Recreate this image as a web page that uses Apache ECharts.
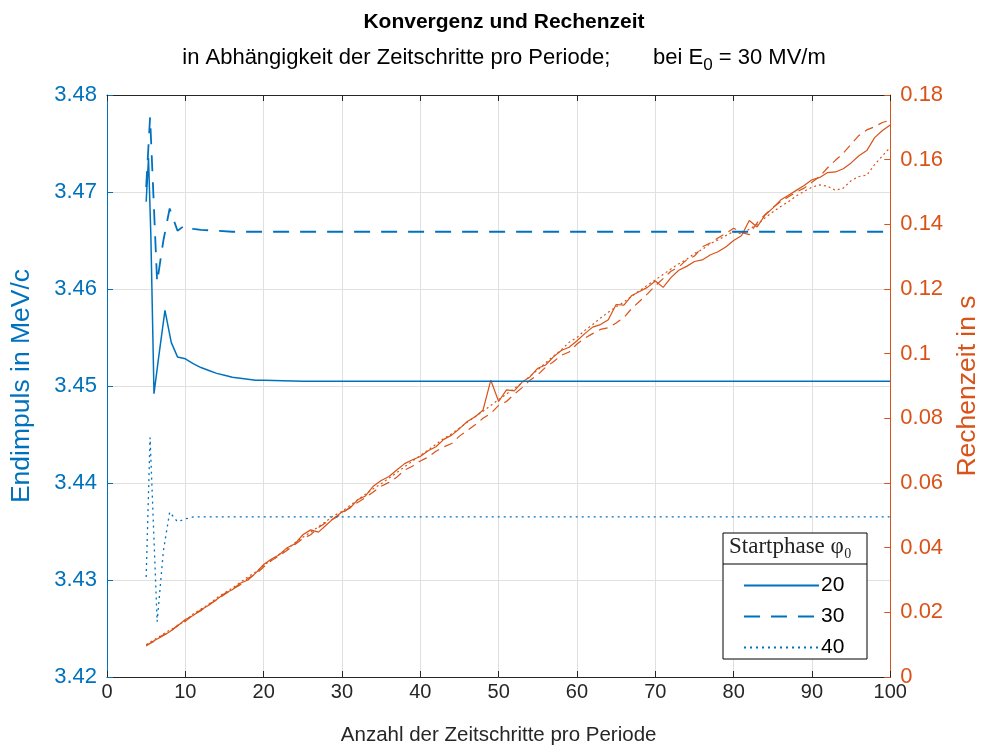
<!DOCTYPE html>
<html>
<head>
<meta charset="utf-8">
<script src="https://cdn.jsdelivr.net/npm/echarts@6/dist/echarts.min.js"></script>
<style>
html,body{margin:0;padding:0;background:#fff;}
#chart{width:989px;height:753px;}
</style>
</head>
<body>
<div id="chart"></div>
<script>
// ---------- data ----------
// time steps per period (x) for the computing-time curves
var steps = [5,6,7,8,9,10,11,12,13,14,15,16,17,18,19,20,21,22,23,24,25,26,27,28,29,30,
31,32,33,34,35,36,37,38,39,40,41,42,43,44,45,46,47,48,49,50,51,52,53,54,55,56,57,58,59,60,
61,62,63,64,65,66,67,68,69,70,71,72,73,74,75,76,77,78,79,80,81,82,83,84,85,86,87,88,89,90,
91,92,93,94,95,96,97,98,99,100];

// Rechenzeit in s (right axis)
var time20 = [0.0096,0.0112,0.0125,0.0140,0.0158,0.0178,0.0190,0.0208,0.0222,0.0240,0.0258,0.0270,0.0290,0.0300,0.0322,0.0348,0.0365,0.0378,0.0400,0.0412,
0.0440,0.0455,0.0448,0.0470,0.0492,0.0510,0.0522,0.0548,0.0560,0.0590,0.0608,0.0620,0.0640,0.0660,0.0672,0.0682,0.0700,0.0712,0.0735,0.0748,
0.0768,0.0790,0.0805,0.0825,0.0918,0.0852,0.0888,0.0885,0.0912,0.0928,0.0955,0.0965,0.0990,0.1010,0.1020,0.1040,0.1062,0.1082,0.1090,0.1105,
0.1152,0.1150,0.1180,0.1192,0.1205,0.1225,0.1205,0.1235,0.1258,0.1270,0.1285,0.1290,0.1305,0.1315,0.1330,0.1350,0.1365,0.1412,0.1392,0.1428,
0.1450,0.1475,0.1490,0.1505,0.1520,0.1538,0.1545,0.1560,0.1562,0.1572,0.1590,0.1612,0.1628,0.1668,0.1690,0.1707];
var time30 = [0.0098,0.0110,0.0128,0.0138,0.0160,0.0172,0.0192,0.0205,0.0225,0.0238,0.0255,0.0272,0.0285,0.0305,0.0318,0.0340,0.0360,0.0375,0.0392,0.0410,
0.0428,0.0440,0.0462,0.0478,0.0490,0.0505,0.0525,0.0540,0.0555,0.0572,0.0590,0.0602,0.0618,0.0640,0.0652,0.0668,0.0680,0.0698,0.0712,0.0722,
0.0745,0.0762,0.0780,0.0800,0.0815,0.0840,0.0852,0.0875,0.0895,0.0918,0.0935,0.0958,0.0975,0.0995,0.1005,0.1030,0.1048,0.1062,0.1075,0.1080,
0.1095,0.1112,0.1140,0.1162,0.1185,0.1210,0.1232,0.1255,0.1268,0.1290,0.1302,0.1330,0.1342,0.1358,0.1372,0.1388,0.1375,0.1368,0.1405,0.1430,
0.1452,0.1470,0.1485,0.1500,0.1512,0.1530,0.1548,0.1575,0.1598,0.1620,0.1648,0.1675,0.1692,0.1702,0.1715,0.1722];
var time40 = [0.0100,0.0115,0.0130,0.0145,0.0158,0.0175,0.0195,0.0210,0.0225,0.0245,0.0260,0.0275,0.0292,0.0310,0.0325,0.0345,0.0362,0.0380,0.0395,0.0415,
0.0432,0.0448,0.0465,0.0482,0.0500,0.0512,0.0530,0.0548,0.0565,0.0582,0.0598,0.0615,0.0632,0.0650,0.0668,0.0685,0.0702,0.0720,0.0738,0.0752,
0.0770,0.0788,0.0805,0.0822,0.0840,0.0858,0.0875,0.0892,0.0910,0.0930,0.0950,0.0972,0.0992,0.1012,0.1035,0.1050,0.1072,0.1090,0.1110,0.1128,
0.1145,0.1160,0.1178,0.1195,0.1212,0.1228,0.1245,0.1262,0.1278,0.1292,0.1310,0.1322,0.1340,0.1352,0.1365,0.1378,0.1370,0.1385,0.1400,0.1420,
0.1438,0.1455,0.1470,0.1488,0.1502,0.1515,0.1522,0.1518,0.1505,0.1512,0.1535,0.1548,0.1552,0.1585,0.1612,0.1638];

// Endimpuls in MeV/c (left axis)
var imp20X = [5,5.3,5.6,6,6.6,7.4,8.2,9,10,11,12,13,14,15,16,17,18,19,20,25,30,40,50,60,70,80,90,100];
var imp20Y = [3.4690,3.4735,3.4655,3.4492,3.4530,3.4578,3.4545,3.4530,3.4528,3.4523,3.4519,3.4516,3.4513,3.4511,3.4509,3.4508,3.4507,3.4506,3.4506,3.4505,3.4505,3.4505,3.4505,3.4505,3.4505,3.4505,3.4505,3.4505];
var imp30X = [5,5.5,6.4,7.2,8,9,10,11,12,14,16,20,30,40,50,60,70,80,90,100];
var imp30Y = [3.4705,3.4777,3.4607,3.4650,3.4683,3.4660,3.4666,3.4662,3.4661,3.4660,3.4659,3.4659,3.4659,3.4659,3.4659,3.4659,3.4659,3.4659,3.4659,3.4659];
var imp40X = [5,5.5,6.4,7.2,8,9,10,11,12,14,16,20,30,40,50,60,70,80,90,100];
var imp40Y = [3.4303,3.4447,3.4257,3.4330,3.4370,3.4360,3.4363,3.4365,3.4365,3.4365,3.4365,3.4365,3.4365,3.4365,3.4365,3.4365,3.4365,3.4365,3.4365,3.4365];

var legendNames = ['20','30','40'];

function zip(a,b){ var r=[]; for(var i=0;i<a.length;i++){ r.push([a[i],b[i]]); } return r; }

var BLUE = '#0072BD', RED = '#D95319', DARK = '#262626';
var FONT = 'Liberation Sans, Arial, sans-serif';

var chart = echarts.init(document.getElementById('chart'), null, {renderer:'canvas'});
var option = {
  animation:false,
  backgroundColor:'#ffffff',
  title:[
    {text:'Konvergenz und Rechenzeit', left:499, top:7, textAlign:'center',
     textStyle:{fontFamily:FONT, fontSize:21, fontWeight:'bold', color:'#000'}},
    {text:'in Abhängigkeit der Zeitschritte pro Periode;       bei E{s|0} = 30 MV/m', left:499, top:36, textAlign:'center',
     textStyle:{fontFamily:FONT, fontSize:22, fontWeight:'normal', color:'#000',
       rich:{s:{fontFamily:FONT, fontSize:17, color:'#000', verticalAlign:'bottom', padding:[16,0,0,0]}}}}
  ],
  grid:{left:107, right:98, top:95, bottom:76, containLabel:false},
  xAxis:[
    {type:'value', min:0, max:100, interval:10, position:'bottom',
     name:'Anzahl der Zeitschritte pro Periode', nameLocation:'middle', nameGap:48,
     nameTextStyle:{fontFamily:FONT, fontSize:20.5, color:DARK},
     axisLine:{onZero:false, lineStyle:{color:DARK, width:1}},
     axisTick:{inside:true, length:6, lineStyle:{color:DARK}},
     axisLabel:{fontFamily:FONT, fontSize:20, color:DARK, margin:5},
     splitLine:{show:true, lineStyle:{color:'#e0e0e0', width:1}}},
    {type:'value', min:0, max:100, interval:10, position:'top',
     axisLine:{show:true, onZero:false, lineStyle:{color:DARK, width:1}},
     axisTick:{show:true, inside:true, length:6, lineStyle:{color:DARK}},
     axisLabel:{show:false}, splitLine:{show:false}}
  ],
  yAxis:[
    {type:'value', min:3.42, max:3.48, interval:0.01, position:'left',
     name:'Endimpuls in MeV/c', nameLocation:'middle', nameGap:72, nameRotate:90,
     nameTextStyle:{fontFamily:FONT, fontSize:26.5, color:BLUE},
     axisLine:{show:true, onZero:false, lineStyle:{color:BLUE, width:1}},
     axisTick:{show:true, inside:true, length:6, lineStyle:{color:BLUE}},
     axisLabel:{fontFamily:FONT, fontSize:22, color:BLUE, margin:10,
       formatter:function(v){return v.toFixed(2);}},
     splitLine:{show:true, lineStyle:{color:'#e0e0e0', width:1}}},
    {type:'value', min:0, max:0.18, interval:0.02, position:'right',
     name:'Rechenzeit in s', nameLocation:'middle', nameGap:63, nameRotate:90,
     nameTextStyle:{fontFamily:FONT, fontSize:26.5, color:RED},
     axisLine:{show:true, onZero:false, lineStyle:{color:RED, width:1}},
     axisTick:{show:true, inside:true, length:6, lineStyle:{color:RED}},
     axisLabel:{fontFamily:FONT, fontSize:22, color:RED, margin:10,
       formatter:function(v){ return String(parseFloat(v.toFixed(2))); }},
     splitLine:{show:false}}
  ],
  legend:{
    data:legendNames, orient:'vertical', left:743, top:575, itemWidth:75, itemHeight:20, itemGap:10,
    padding:0, itemStyle:{opacity:0, color:'rgba(0,0,0,0)', borderWidth:0},
    textStyle:{fontFamily:FONT, fontSize:21, color:'#000', padding:[0,0,0,-3]},
    z:10, selectedMode:false
  },
  graphic:[
    {type:'rect', z:8, shape:{x:723, y:533, width:144, height:126},
     style:{fill:'#fff', stroke:'#000', lineWidth:1}},
    {type:'line', z:9, shape:{x1:723, y1:564, x2:867, y2:564}, style:{stroke:'#000', lineWidth:1}},
    {type:'text', z:9, left:729, top:535,
     style:{text:'Startphase φ₀', font:'23px "Liberation Serif", "DejaVu Serif", serif', fill:'#222'}}
  ],
  series:[
    {name:'20', type:'line', xAxisIndex:0, yAxisIndex:0, data:zip(imp20X, imp20Y), symbol:'none',
     lineStyle:{color:BLUE, width:1.5, type:'solid'}, itemStyle:{color:BLUE}, z:5},
    {name:'30', type:'line', xAxisIndex:0, yAxisIndex:0, data:zip(imp30X, imp30Y), symbol:'none',
     lineStyle:{color:BLUE, width:1.8, type:[16,11]}, itemStyle:{color:BLUE}, z:5},
    {name:'40', type:'line', xAxisIndex:0, yAxisIndex:0, data:zip(imp40X, imp40Y), symbol:'none',
     lineStyle:{color:BLUE, width:1.3, type:[2,4]}, itemStyle:{color:BLUE}, z:5},
    {name:'t20', type:'line', xAxisIndex:0, yAxisIndex:1, data:zip(steps, time20), symbol:'none',
     lineStyle:{color:RED, width:1.2, type:'solid'}, itemStyle:{color:RED}, z:4},
    {name:'t30', type:'line', xAxisIndex:0, yAxisIndex:1, data:zip(steps, time30), symbol:'none',
     lineStyle:{color:RED, width:1.2, type:[9,6]}, itemStyle:{color:RED}, z:4},
    {name:'t40', type:'line', xAxisIndex:0, yAxisIndex:1, data:zip(steps, time40), symbol:'none',
     lineStyle:{color:RED, width:1.2, type:[2,3]}, itemStyle:{color:RED}, z:4}
  ]
};
chart.setOption(option);
</script>
</body>
</html>
